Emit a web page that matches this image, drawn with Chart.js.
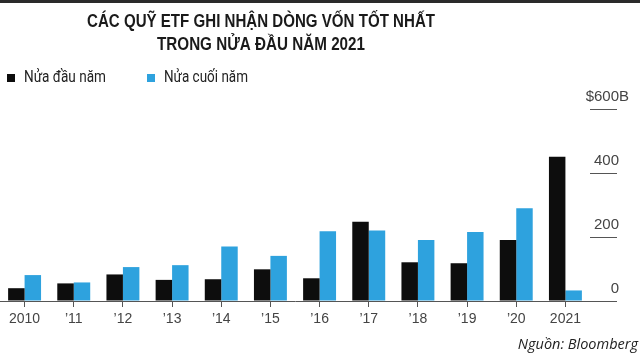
<!DOCTYPE html>
<html>
<head>
<meta charset="utf-8">
<script src="https://cdn.jsdelivr.net/npm/chart.js@4"></script>
<style>
    html, body { margin: 0; padding: 0; background: #fff; }
    #wrap { position: relative; width: 640px; height: 354px; }
</style>
</head>
<body>
<div id="wrap"><canvas id="etfChart" width="640" height="354"></canvas></div>
<script>
// Dữ liệu (tỷ USD)
const years = ['2010', '’11', '’12', '’13', '’14', '’15', '’16', '’17', '’18', '’19', '’20', '2021'];
const firstHalf = [40, 55, 83, 66, 68, 99, 71, 248, 121, 118, 191, 451];
const secondHalf = [81, 58, 106, 112, 170, 141, 218, 220, 191, 216, 290, 33];
const yTicks = [0, 200, 400, 600];
const yTickLabels = ['0', '200', '400', '$600'];
const titleLines = ['CÁC QUỸ ETF GHI NHẬN DÒNG VỐN TỐT NHẤT', 'TRONG NỬA ĐẦU NĂM 2021'];
const sourceText = 'Nguồn: Bloomberg';

const BLACK = '#0d0d0d';
const BLUE = '#2ea2de';

// Vẽ chữ co giãn ngang cho vừa độ rộng
function fitText(ctx, text, x, y, width) {
    const w = ctx.measureText(text).width;
    ctx.save();
    ctx.translate(x, y);
    ctx.scale(width / w, 1);
    ctx.fillText(text, 0, 0);
    ctx.restore();
}

// Tiêu đề, chú thích, nguồn và nhãn trục y
const decorPlugin = {
    id: 'decor',
    afterDraw(chart) {
        const ctx = chart.ctx;
        ctx.save();

        // Viền trên
        ctx.fillStyle = '#2a2a2a';
        ctx.fillRect(0, 0, chart.width, 3);

        // Tiêu đề
        ctx.fillStyle = '#1a1a1a';
        ctx.font = 'bold 19px "Liberation Sans", Arial, sans-serif';
        ctx.textAlign = 'center';
        ctx.textBaseline = 'middle';
        fitText(ctx, titleLines[0], 261, 22, 348);
        fitText(ctx, titleLines[1], 261, 45, 208);

        // Chú thích
        ctx.font = '16px Roboto, sans-serif';
        ctx.textAlign = 'left';
        const legendX = [7, 147];
        const legendW = [82, 84];
        chart.data.datasets.forEach((ds, i) => {
            ctx.fillStyle = ds.backgroundColor;
            ctx.fillRect(legendX[i], 74, 8, 8);
            ctx.fillStyle = '#222';
            fitText(ctx, ds.label, legendX[i] + 17, 78, legendW[i]);
        });

        // Nhãn trục y
        const yScale = chart.scales.y;
        ctx.font = '15px "Liberation Sans", Arial, sans-serif';
        ctx.fillStyle = '#444';
        ctx.textBaseline = 'alphabetic';
        yTicks.forEach((v, i) => {
            const y = yScale.getPixelForValue(v);
            ctx.textAlign = 'right';
            ctx.fillText(yTickLabels[i], 619, y - 8);
            if (i === yTicks.length - 1) {
                ctx.textAlign = 'left';
                ctx.fillText('B', 619, y - 8);
            }
        });

        // Nguồn
        ctx.font = 'italic 14.5px "Open Sans", sans-serif';
        ctx.fillStyle = '#222';
        ctx.textAlign = 'right';
        ctx.textBaseline = 'middle';
        ctx.fillText(sourceText, 638, 345);

        ctx.restore();
    }
};

const ctx = document.getElementById('etfChart').getContext('2d');
new Chart(ctx, {
    type: 'bar',
    data: {
        labels: years,
        datasets: [
            {
                label: 'Nửa đầu năm',
                data: firstHalf,
                backgroundColor: BLACK,
                barPercentage: 1,
                categoryPercentage: 0.67
            },
            {
                label: 'Nửa cuối năm',
                data: secondHalf,
                backgroundColor: BLUE,
                barPercentage: 1,
                categoryPercentage: 0.67
            }
        ]
    },
    options: {
        responsive: false,
        animation: false,
        layout: {
            padding: { top: 109, bottom: 27, left: 0, right: 0 }
        },
        scales: {
            x: {
                grid: {
                    offset: false,
                    drawOnChartArea: false,
                    drawTicks: true,
                    tickLength: 6,
                    color: '#555'
                },
                border: { display: true, color: '#555', width: 1 },
                ticks: {
                    color: '#444',
                    padding: 4,
                    maxRotation: 0,
                    autoSkip: false,
                    font: { family: '"Liberation Sans", Arial, sans-serif', size: 14 }
                },
                afterFit(scale) { scale.height = 26; }
            },
            y: {
                position: 'right',
                min: 0,
                max: 600,
                afterBuildTicks(scale) {
                    scale.ticks = yTicks.map(v => ({ value: v }));
                },
                grid: {
                    drawOnChartArea: false,
                    drawTicks: true,
                    tickLength: 27,
                    color: '#555'
                },
                border: { display: false },
                ticks: { display: false },
                afterFit(scale) { scale.width = 50; }
            }
        },
        plugins: {
            legend: { display: false },
            title: { display: false },
            tooltip: { enabled: false }
        }
    },
    plugins: [decorPlugin]
});
</script>
</body>
</html>
